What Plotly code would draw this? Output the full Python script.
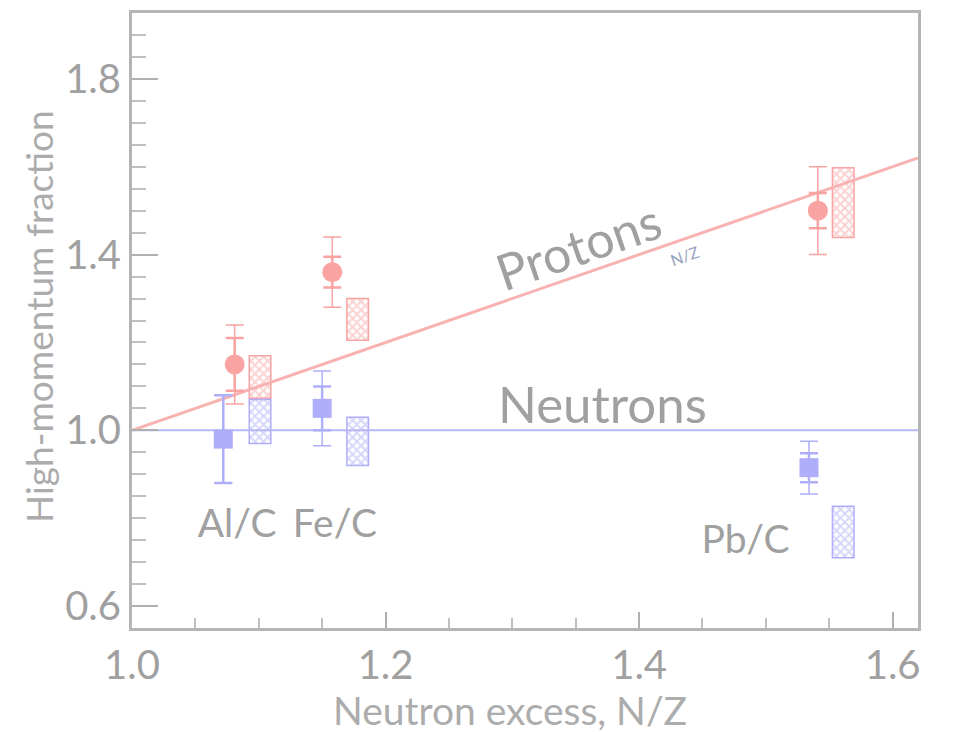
import plotly.graph_objects as go

# ---- data ----
targets = ["Al/C", "Fe/C", "Pb/C"]
nz_proton = [1.081, 1.158, 1.541]
proton_val = [1.15, 1.36, 1.50]
proton_err_tot = [0.09, 0.08, 0.10]
proton_err_stat = [0.06, 0.035, 0.04]

nz_neutron = [1.072, 1.150, 1.534]
neutron_val = [0.98, 1.05, 0.915]
neutron_err_tot = [0.10, 0.085, 0.06]
neutron_err_stat = [0.10, 0.05, 0.033]

nz_band = [1.101, 1.178, 1.561]
proton_band_lo = [1.073, 1.205, 1.439]
proton_band_hi = [1.170, 1.300, 1.598]
neutron_band_lo = [0.970, 0.920, 0.710]
neutron_band_hi = [1.070, 1.030, 0.827]

line_x = [1.0, 1.62]
proton_line = [1.0, 1.62]   # proportional to N/Z
neutron_line = [1.0, 1.0]

label_x = [1.083, 1.160, 1.484]
label_y = [0.78, 0.78, 0.743]

RED = "#f9a3a3"
RED_LINE = "#f8b2b2"
BLUE = "#aeaefa"
BLUE_LINE = "#b6b6f8"
GRAY = "#a0a0a0"
FONT = "Lato"

fig = go.Figure()

# reference lines
fig.add_trace(go.Scatter(x=line_x, y=proton_line, mode="lines",
                         line=dict(color=RED_LINE, width=3), showlegend=False, hoverinfo="skip"))
fig.add_trace(go.Scatter(x=line_x, y=neutron_line, mode="lines",
                         line=dict(color=BLUE_LINE, width=2), showlegend=False, hoverinfo="skip"))

# hatched bands
for lo, hi, col in [(proton_band_lo, proton_band_hi, RED), (neutron_band_lo, neutron_band_hi, BLUE)]:
    fig.add_trace(go.Bar(
        x=nz_band, y=[h - l for h, l in zip(hi, lo)], base=lo, width=0.017,
        marker=dict(color="white", line=dict(color=col, width=1.5),
                    pattern=dict(shape="x", fgcolor=col, bgcolor="white", size=6, solidity=0.55)),
        showlegend=False, hoverinfo="skip"))

# protons: total + stat error bars
fig.add_trace(go.Scatter(x=nz_proton, y=proton_val, mode="markers",
                         marker=dict(size=1, color=RED, opacity=0),
                         error_y=dict(type="data", array=proton_err_tot, color=RED, thickness=1.5, width=9),
                         showlegend=False))
fig.add_trace(go.Scatter(x=nz_proton, y=proton_val, mode="markers",
                         marker=dict(symbol="circle", size=20, color=RED),
                         error_y=dict(type="data", array=proton_err_stat, color=RED, thickness=2.5, width=9),
                         showlegend=False))

# neutrons
fig.add_trace(go.Scatter(x=nz_neutron, y=neutron_val, mode="markers",
                         marker=dict(size=1, color=BLUE, opacity=0),
                         error_y=dict(type="data", array=neutron_err_tot, color=BLUE, thickness=1.5, width=9),
                         showlegend=False))
fig.add_trace(go.Scatter(x=nz_neutron, y=neutron_val, mode="markers",
                         marker=dict(symbol="square", size=19, color=BLUE),
                         error_y=dict(type="data", array=neutron_err_stat, color=BLUE, thickness=2.5, width=9),
                         showlegend=False))

# text labels
fig.add_trace(go.Scatter(x=label_x, y=label_y, mode="text", text=targets,
                         textfont=dict(family=FONT, size=39, color=GRAY), showlegend=False, hoverinfo="skip"))

fig.add_annotation(x=1.352, y=1.42, text="Protons", showarrow=False, textangle=-19,
                   font=dict(family=FONT, size=50, color=GRAY))
fig.add_annotation(x=1.436, y=1.398, text="N/Z", showarrow=False, textangle=-19,
                   font=dict(family=FONT, size=16, color="#95a2c0"))
fig.add_annotation(x=1.371, y=1.061, text="Neutrons", showarrow=False,
                   font=dict(family=FONT, size=51, color=GRAY))

# axis titles
fig.add_annotation(xref="paper", yref="paper", x=0.481, y=-0.133, yanchor="middle",
                   text="Neutron excess, N/Z", showarrow=False,
                   font=dict(family=FONT, size=39, color="#acacac"))
fig.add_annotation(xref="paper", yref="paper", x=-0.118, y=0.506, xanchor="center",
                   text="High-momentum fraction", showarrow=False, textangle=-90,
                   font=dict(family=FONT, size=37, color="#acacac"))

fig.update_layout(
    width=971, height=732,
    margin=dict(l=132, r=53, t=13, b=104),
    plot_bgcolor="white", paper_bgcolor="white",
    barmode="overlay",
    font=dict(family=FONT, color=GRAY),
    xaxis=dict(range=[1.0, 1.62], tickvals=[1.0, 1.2, 1.4, 1.6], ticktext=["1.0", "1.2", "1.4", "1.6"],
               ticks="inside", ticklen=16, tickwidth=1.5, tickcolor="#b0b0b0",
               minor=dict(dtick=0.05, tick0=1.0, ticks="inside", ticklen=10, tickcolor="#c0c0c0"),
               showline=True, linecolor="#b5b5b5", linewidth=3, mirror=True,
               showgrid=False, zeroline=False, automargin=False,
               tickfont=dict(family=FONT, size=40, color=GRAY)),
    yaxis=dict(range=[0.55, 1.95], tickvals=[0.6, 1.0, 1.4, 1.8], ticktext=["0.6", "1.0", "1.4", "1.8"],
               ticks="inside", ticklen=26, tickwidth=1.5, tickcolor="#b0b0b0",
               minor=dict(dtick=0.05, tick0=0.6, ticks="inside", ticklen=14, tickcolor="#c0c0c0"),
               showline=True, linecolor="#b5b5b5", linewidth=3, mirror=True,
               showgrid=False, zeroline=False, automargin=False,
               tickfont=dict(family=FONT, size=40, color=GRAY)),
)

fig.write_html("out.html")
